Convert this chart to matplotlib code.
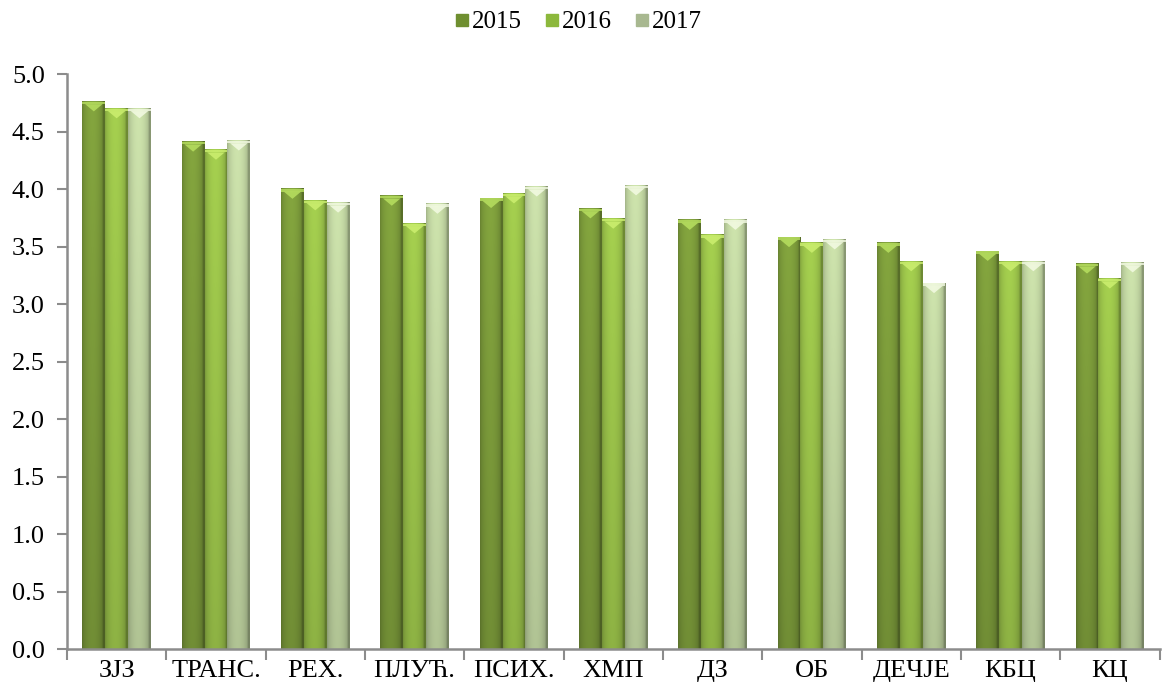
import numpy as np
import matplotlib
matplotlib.use("Agg")
import matplotlib.pyplot as plt
from matplotlib.colors import to_rgb
from matplotlib.lines import Line2D
from matplotlib.patches import Polygon

plt.rcParams['font.family'] = ['Liberation Serif', 'DejaVu Serif']

# data
categories = ["ЗЈЗ", "ТРАНС.", "РЕХ.", "ПЛУЋ.", "ПСИХ.", "ХМП", "ДЗ", "ОБ", "ДЕЧЈЕ", "КБЦ", "КЦ"]
years = ["2015", "2016", "2017"]
v2015 = [4.76, 4.41, 4.00, 3.94, 3.92, 3.83, 3.73, 3.58, 3.53, 3.46, 3.35]
v2016 = [4.70, 4.34, 3.90, 3.70, 3.96, 3.74, 3.60, 3.53, 3.37, 3.37, 3.22]
v2017 = [4.70, 4.42, 3.88, 3.87, 4.02, 4.03, 3.73, 3.56, 3.18, 3.37, 3.36]
series = [v2015, v2016, v2017]
colors = ["#7f9f3c", "#9fc84c", "#c6dba6"]
caps = ["#b8e060", "#cdf070", "#f4fbe4"]

fig = plt.figure(figsize=(11.63, 6.95), dpi=100)
ax = fig.add_axes([0.0576, 0.066, 0.9394, 0.8275])

x = np.arange(len(categories))
w = 0.23
grey = "#8c8c8c"


def shade_bar(rect, base, cap):
    bx, bw, bh = rect.get_x(), rect.get_width(), rect.get_height()
    rgb = np.array(to_rgb(base))
    nx, ny = 40, 60
    u = np.linspace(0, 1, nx)
    # cylinder-like horizontal shading
    hz = 0.82 + 0.22 * np.sin(np.pi * np.clip(u * 1.1, 0, 1)) ** 0.6
    hz[-4:] *= 0.85
    vt = np.linspace(1.0, 0.86, ny)  # darker toward bottom
    img = rgb[None, None, :] * hz[None, :, None] * vt[:, None, None]
    img = np.clip(img, 0, 1)
    ax.imshow(img, extent=[bx, bx + bw, 0, bh], aspect='auto',
              interpolation='bilinear', zorder=2)
    ax.fill_between([bx, bx + bw], bh - 0.022, bh, color=cap, zorder=3, lw=0, alpha=0.8)
    tri = Polygon([[bx + 0.12 * bw, bh - 0.022], [bx + 0.88 * bw, bh - 0.022],
                   [bx + 0.5 * bw, bh - 0.085]], closed=True,
                  facecolor=cap, edgecolor='none', alpha=0.85, zorder=3)
    ax.add_patch(tri)


for i, (vals, c, cp) in enumerate(zip(series, colors, caps)):
    bars = ax.bar(x + (i - 1) * w, vals, w, color=c, zorder=1, linewidth=0)
    for r in bars:
        shade_bar(r, c, cp)

ax.set_xlim(-0.5, len(categories) - 0.5)
ax.set_ylim(0, 5.0)
ax.set_yticks(np.arange(0, 5.01, 0.5))
ax.set_yticklabels([f"{t:.1f}" for t in np.arange(0, 5.01, 0.5)])
ax.set_xticks(x)
ax.set_xticklabels(categories)
ax.set_xticks(np.arange(-0.5, len(categories), 1), minor=True)
ax.tick_params(axis='x', which='major', length=0, pad=8, labelsize=19)
ax.tick_params(axis='x', which='minor', length=8, width=1.5, color=grey, direction='out')
ax.tick_params(axis='y', length=7, width=1.5, color=grey, labelsize=19, pad=9)

for s in ['top', 'right']:
    ax.spines[s].set_visible(False)
for s in ['left', 'bottom']:
    ax.spines[s].set_color(grey)
    ax.spines[s].set_linewidth(1.8)

handles = [Line2D([], [], marker='s', ls='none', markersize=9,
                  markerfacecolor=c, markeredgecolor=c) for c in ["#6f8f30", "#8cb83c", "#a8b890"]]
fig.legend(handles, years, loc='center', bbox_to_anchor=(0.497, 0.968), ncol=3,
           frameon=False, fontsize=18, handlelength=0.6, handletextpad=0.1,
           columnspacing=0.9)

fig.savefig("out.png", dpi=100)
